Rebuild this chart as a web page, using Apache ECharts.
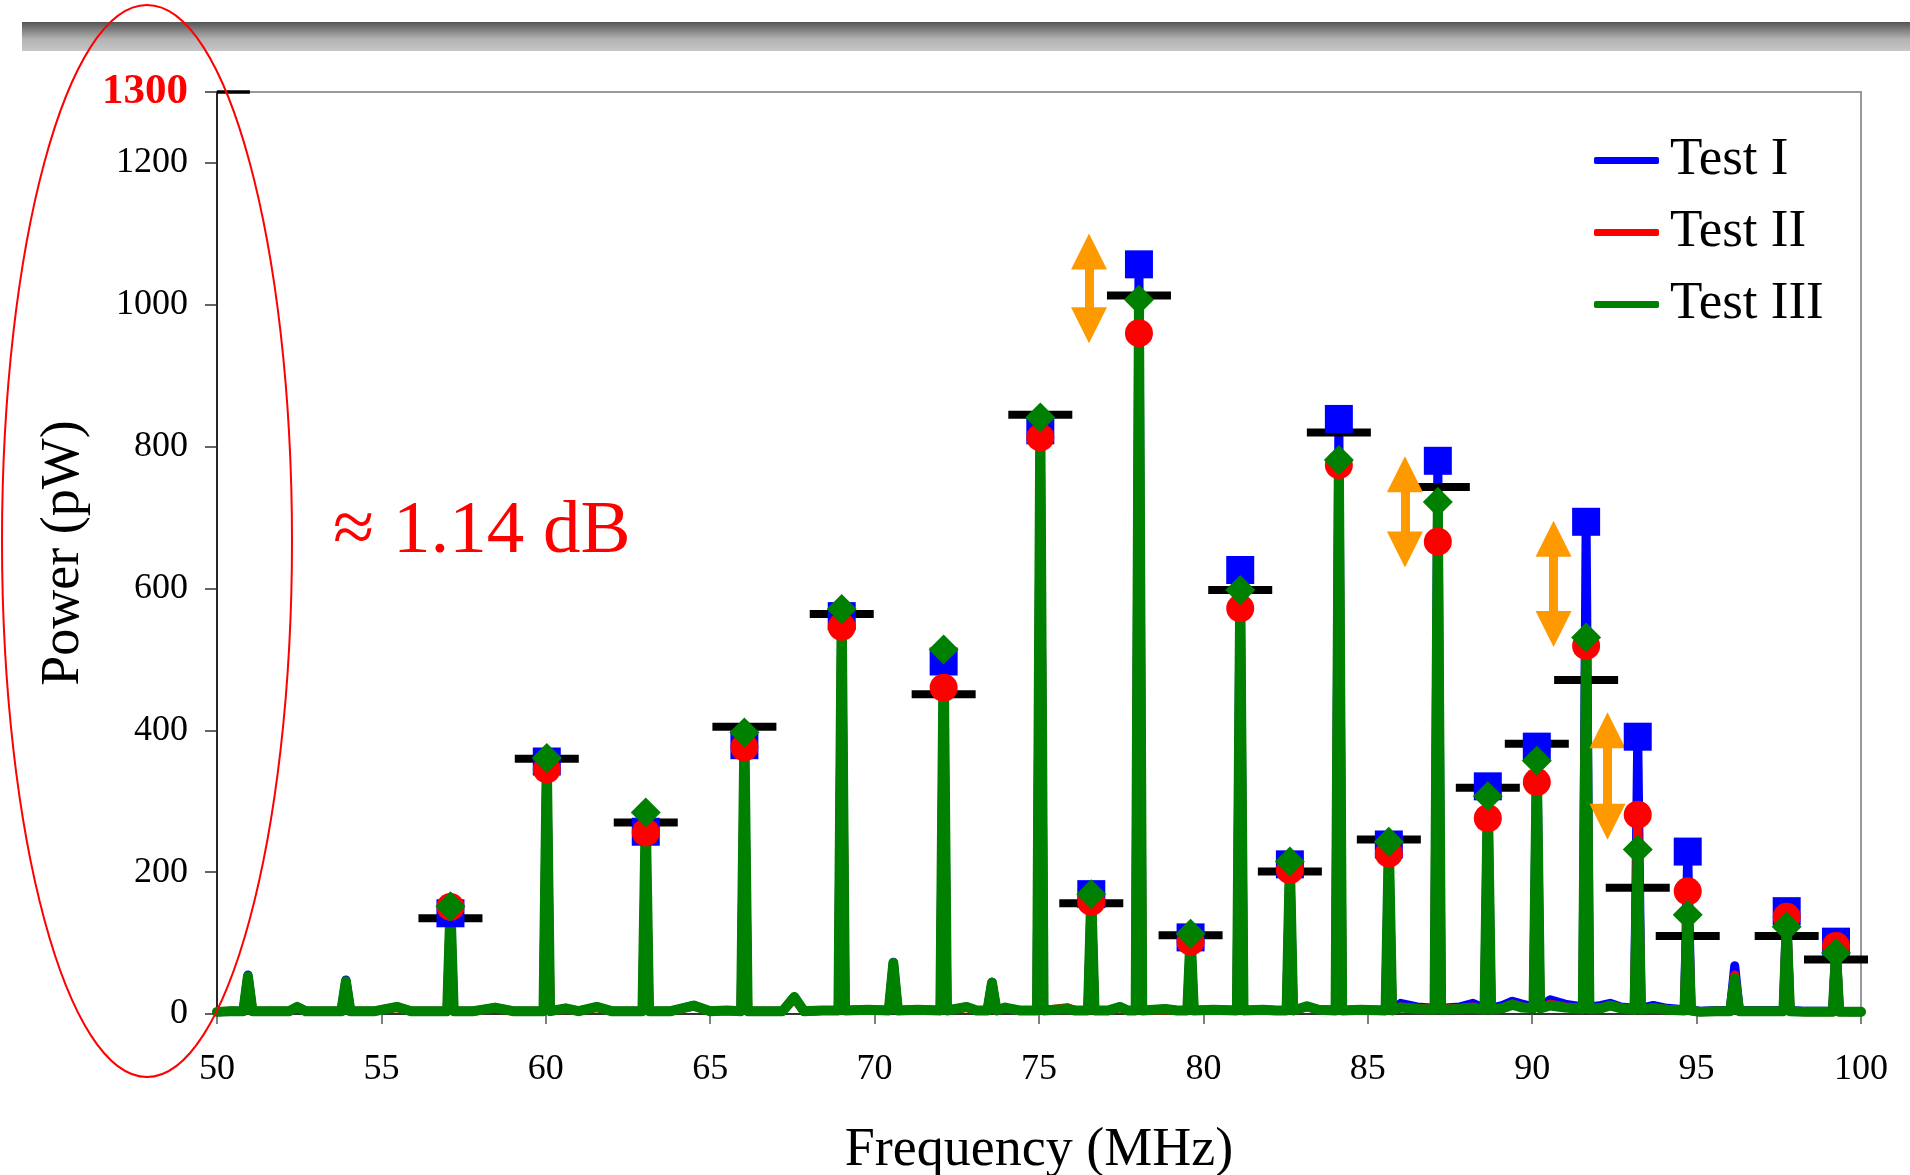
<!DOCTYPE html>
<html>
<head>
<meta charset="utf-8">
<script src="https://cdn.jsdelivr.net/npm/echarts@6/dist/echarts.min.js"></script>
<style>
html,body{margin:0;padding:0;background:#fff;}
#chart{width:1910px;height:1175px;}
</style>
</head>
<body>
<div id="chart"></div>
<script>
// ---- data ----
const xTicks = [50, 55, 60, 65, 70, 75, 80, 85, 90, 95, 100];
const yTicks = [0, 200, 400, 600, 800, 1000, 1200, 1300];

// main peaks (with markers)
const peakFreq = [57.10, 60.03, 63.04, 66.04, 69.00, 72.10, 75.04, 76.59, 78.04, 79.61, 81.12,
                  82.63, 84.12, 85.64, 87.13, 88.65, 90.14, 91.64, 93.21, 94.73, 97.74, 99.24];
const peakI   = [142, 356, 257, 379, 561, 497, 823, 169, 1057, 108, 626, 211, 839, 239, 780, 321, 377, 694, 391, 229, 145, 102];
const peakII  = [151, 345, 256, 376, 546, 460, 813, 158, 960, 102, 572, 203, 774, 226, 666, 276, 327, 519, 281, 173, 137, 96];
const peakIII = [152, 361, 284, 397, 571, 514, 841, 169, 1007, 113, 598, 215, 781, 243, 722, 307, 357, 531, 232, 140, 123, 86];
const expected = [135, 360, 270, 405, 564, 451, 845, 156, 1013, 111, 598, 201, 820, 246, 743, 319, 381, 471, 178, 110, 110, 77];

// small peaks (no markers)
const smallFreq = [50.94, 53.92, 70.57, 73.57, 96.16];
const smallI    = [55, 48, 73, 45, 68];
const smallII   = [52, 45, 70, 43, 55];
const smallIII  = [53, 46, 72, 44, 50];

// noise floor between peaks
const floorFreq = [
 50.00, 50.40, 50.80, 51.08, 51.60, 52.20, 52.44, 52.70, 53.30, 53.78,
 54.06, 54.80, 55.47, 55.90, 56.50, 57.00, 57.20, 57.80, 58.46, 59.00,
 59.60, 59.93, 60.13, 60.60, 61.00, 61.55, 62.00, 62.60, 62.94, 63.14,
 63.80, 64.50, 65.00, 65.50, 65.94, 66.14, 66.80, 67.20, 67.56, 67.85,
 68.40, 68.90, 69.10, 69.80, 70.43, 70.71, 71.30, 72.00, 72.20, 72.80,
 73.10, 73.43, 73.71, 73.97, 74.40, 74.94, 75.14, 75.85, 76.10, 76.49,
 76.69, 77.10, 77.47, 77.70, 77.94, 78.14, 78.84, 79.20, 79.51, 79.71,
 80.30, 81.02, 81.22, 81.80, 82.20, 82.53, 82.73, 83.15, 83.50, 84.02,
 84.22, 84.80, 85.54, 85.74, 86.00, 86.50, 87.03, 87.23, 87.80, 88.20,
 88.55, 88.75, 89.10, 89.40, 89.70, 90.04, 90.24, 90.55, 91.00, 91.54,
 91.74, 92.10, 92.37, 92.70, 93.11, 93.31, 93.68, 94.10, 94.63, 94.83,
 95.10, 95.60, 96.02, 96.30, 96.90, 97.30, 97.64, 97.84, 98.30, 98.80,
 99.14, 99.34, 99.70, 100.00];
const floorI = [
 3, 4, 4, 4, 4, 4, 10, 4, 4, 4,
 4, 4, 10, 4, 4, 4, 4, 4, 9, 4,
 4, 4, 4, 8, 4, 10, 4, 4, 4, 4,
 4, 12, 4, 5, 4, 4, 4, 4, 24, 4,
 5, 5, 5, 6, 5, 5, 6, 5, 5, 10,
 5, 5, 5, 9, 5, 5, 5, 7, 5, 5,
 5, 5, 10, 5, 5, 5, 7, 5, 5, 5,
 6, 5, 5, 6, 5, 5, 5, 11, 6, 5,
 5, 6, 5, 5, 15, 10, 8, 8, 10, 15,
 8, 8, 12, 18, 14, 10, 10, 20, 14, 10,
 10, 12, 15, 10, 8, 8, 12, 8, 6, 6,
 4, 5, 5, 5, 5, 5, 5, 5, 4, 4,
 4, 4, 3, 3];
const floorII = [
 3, 4, 4, 4, 4, 4, 9, 4, 4, 4,
 4, 4, 9, 4, 4, 4, 4, 4, 8, 4,
 4, 4, 4, 7, 4, 9, 4, 4, 4, 4,
 4, 11, 4, 5, 4, 4, 4, 4, 22, 4,
 5, 5, 5, 6, 5, 5, 6, 5, 5, 9,
 5, 5, 5, 8, 5, 5, 5, 9, 5, 5,
 5, 5, 9, 5, 5, 5, 6, 5, 5, 5,
 6, 5, 5, 6, 5, 5, 5, 10, 6, 5,
 5, 6, 5, 5, 10, 8, 7, 7, 8, 10,
 6, 6, 9, 14, 10, 8, 8, 14, 10, 8,
 8, 9, 12, 9, 6, 6, 9, 6, 5, 5,
 3, 4, 4, 4, 4, 4, 4, 4, 3, 3,
 3, 3, 3, 3];
const floorIII = [
 3, 4, 4, 4, 4, 4, 10, 4, 4, 4,
 4, 4, 10, 4, 4, 4, 4, 4, 9, 4,
 4, 4, 4, 8, 4, 10, 4, 4, 4, 4,
 4, 12, 4, 5, 4, 4, 4, 4, 24, 4,
 5, 5, 5, 6, 5, 5, 6, 5, 5, 10,
 5, 5, 5, 9, 5, 5, 5, 7, 5, 5,
 5, 5, 10, 5, 5, 5, 7, 5, 5, 5,
 6, 5, 5, 6, 5, 5, 5, 11, 6, 5,
 5, 6, 5, 5, 9, 7, 6, 6, 7, 8,
 6, 6, 8, 13, 9, 8, 8, 12, 9, 7,
 7, 8, 12, 8, 6, 6, 8, 6, 5, 5,
 3, 4, 4, 4, 4, 4, 4, 4, 3, 3,
 3, 3, 3, 3];

// orange double arrows (x, lower head, upper head)
const arrowFreq = [76.52, 86.13, 90.65, 92.29];
const arrowLow  = [971, 655, 543, 271];
const arrowHigh = [1075, 761, 670, 400];

const seriesNames = ['Test I', 'Test II', 'Test III'];

// ---- build ----
function buildLine(floorVals, peakVals, smallVals) {
  const pts = floorFreq.map((f, i) => [f, floorVals[i]]);
  peakFreq.forEach((f, i) => pts.push([f, peakVals[i]]));
  smallFreq.forEach((f, i) => pts.push([f, smallVals[i]]));
  pts.sort((a, b) => a[0] - b[0]);
  return pts;
}
function peaks(vals) { return peakFreq.map((f, i) => [f, vals[i]]); }

const SERIF = "'Liberation Serif', 'Times New Roman', serif";
const BLUE = '#0000FF', RED = '#FF0000', GREEN = '#008000', ORANGE = '#FF9900';

const chart = echarts.init(document.getElementById('chart'), null, {renderer: 'canvas'});

const lineCommon = {
  type: 'line', symbol: 'none', showSymbol: false, silent: true
};

const option = {
  animation: false,
  backgroundColor: '#ffffff',
  grid: {
    left: 217, right: 49, top: 92, bottom: 161,
    outerBoundsMode: 'none', containLabel: false,
    show: true, borderColor: '#999999', borderWidth: 2, backgroundColor: 'transparent'
  },
  legend: {
    data: seriesNames.map(n => ({name: n})),
    orient: 'vertical', left: 1594, top: 134, padding: 0,
    icon: 'roundRect', itemWidth: 65, itemHeight: 7, itemGap: 19,
    selectedMode: false,
    textStyle: {fontFamily: SERIF, fontSize: 53, color: '#000', padding: [0, 0, 0, 6]}
  },
  xAxis: {
    type: 'value', min: 50, max: 100, interval: 5,
    name: 'Frequency (MHz)', nameLocation: 'middle', nameGap: 110,
    nameTextStyle: {fontFamily: SERIF, fontSize: 54, color: '#000'},
    axisLine: {show: true, onZero: false, lineStyle: {color: '#333', width: 2}},
    axisTick: {show: true, inside: false, length: 10, lineStyle: {color: '#555', width: 1.5}},
    axisLabel: {fontFamily: SERIF, fontSize: 36, color: '#000', margin: 38},
    splitLine: {show: false}
  },
  yAxis: {
    type: 'value', min: 0, max: 1300, interval: 200,
    name: 'Power (pW)', nameLocation: 'middle', nameGap: 123, nameRotate: 90,
    nameTextStyle: {fontFamily: SERIF, fontSize: 54, color: '#000'},
    axisLine: {show: true, lineStyle: {color: '#000', width: 1.5}},
    axisTick: {show: true, inside: false, length: 12, lineStyle: {color: '#333', width: 1.5}},
    axisLabel: {
      fontFamily: SERIF, fontSize: 36, color: '#000', margin: 29,
      formatter: v => (v === yTicks[yTicks.length - 1] ? '{r|' + v + '}' : String(v)),
      rich: {r: {fontFamily: SERIF, fontSize: 43, fontWeight: 'bold', color: '#FF0000'}}
    },
    splitLine: {show: false}
  },
  series: [
    Object.assign({}, lineCommon, {
      name: 'Test I', color: BLUE, z: 2,
      lineStyle: {color: BLUE, width: 9, cap: 'round', join: 'round'},
      data: buildLine(floorI, peakI, smallI),
      markLine: {
        silent: true, symbol: ['none', 'none'], animation: false,
        label: {show: false},
        lineStyle: {color: '#000', width: 3.5, type: 'solid'},
        data: [[{coord: [xTicks[0], yTicks[yTicks.length - 1]]}, {coord: [51.0, yTicks[yTicks.length - 1]]}]]
      }
    }),
    Object.assign({}, lineCommon, {
      name: 'Test II', color: RED, z: 2,
      lineStyle: {color: RED, width: 9, cap: 'round', join: 'round'},
      data: buildLine(floorII, peakII, smallII)
    }),
    {
      name: 'expected', type: 'scatter', silent: true, z: 3,
      symbol: 'rect', symbolSize: [64, 8],
      itemStyle: {color: '#000', opacity: 1},
      data: peaks(expected),
      markLine: {
        silent: true, animation: false,
        symbol: ['triangle', 'triangle'], symbolSize: [36, 36],
        label: {show: false},
        lineStyle: {color: ORANGE, width: 9, type: 'solid', opacity: 1},
        itemStyle: {color: ORANGE},
        data: arrowFreq.map((f, i) => [{coord: [f, arrowLow[i]]}, {coord: [f, arrowHigh[i]]}])
      }
    },
    Object.assign({}, lineCommon, {
      name: 'Test III', color: GREEN, z: 4,
      lineStyle: {color: GREEN, width: 10, cap: 'round', join: 'round'},
      data: buildLine(floorIII, peakIII, smallIII)
    }),
    {
      name: 'Test I', type: 'scatter', silent: true, z: 5, color: BLUE,
      symbol: 'rect', symbolSize: 28,
      itemStyle: {color: BLUE, opacity: 1},
      data: peaks(peakI)
    },
    {
      name: 'Test II', type: 'scatter', silent: true, z: 6, color: RED,
      symbol: 'circle', symbolSize: 28,
      itemStyle: {color: RED, opacity: 1},
      data: peaks(peakII)
    },
    {
      name: 'Test III', type: 'scatter', silent: true, z: 7, color: GREEN,
      symbol: 'diamond', symbolSize: [30, 30],
      itemStyle: {color: GREEN, opacity: 1},
      data: peaks(peakIII)
    }
  ],
  graphic: [
    {
      type: 'rect', z: 50, silent: true,
      shape: {x: 22, y: 22, width: 1888, height: 29},
      style: {
        fill: {type: 'linear', x: 0, y: 0, x2: 0, y2: 1,
               colorStops: [{offset: 0, color: '#555555'}, {offset: 0.6, color: '#b4b4b4'}, {offset: 1, color: '#c6c6c6'}]}
      }
    },
    {
      type: 'text', z: 60, silent: true,
      style: {text: '≈ 1.14 dB', x: 333, y: 532, font: "75px 'Liberation Serif'", fill: '#FF0000',
              textAlign: 'left', textVerticalAlign: 'middle', verticalAlign: 'middle'}
    },
    {
      type: 'ellipse', z: 100, silent: true,
      shape: {cx: 147, cy: 541, rx: 145, ry: 536},
      style: {fill: null, stroke: '#FF0000', lineWidth: 2}
    }
  ]
};
chart.setOption(option);
</script>
</body>
</html>
